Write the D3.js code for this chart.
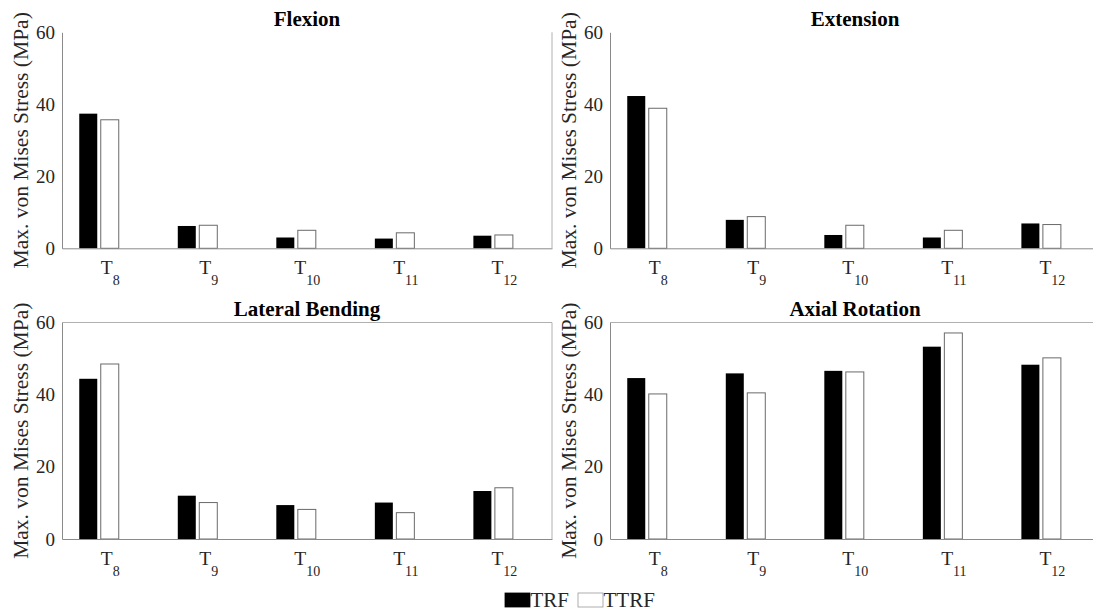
<!DOCTYPE html>
<html>
<head>
<meta charset="utf-8">
<script src="https://cdn.jsdelivr.net/npm/d3@7"></script>
<style>
  body { margin: 0; background: #fff; }
  svg { display: block; }
  text { font-family: "Liberation Serif", "Times New Roman", serif; }
</style>
</head>
<body>
<script>
// vertebra levels (subscripts of T)
var levels = ["8", "9", "10", "11", "12"];
var seriesNames = ["TRF", "TTRF"];
var panelTitles = ["Flexion", "Extension", "Lateral Bending", "Axial Rotation"];
var yTicks = [0, 20, 40, 60];

// max von Mises stress (MPa)
var flexionTRF = [37.4, 6.2, 3.0, 2.7, 3.5];
var flexionTTRF = [35.7, 6.4, 5.0, 4.3, 3.7];
var extensionTRF = [42.3, 7.9, 3.7, 3.0, 6.9];
var extensionTTRF = [38.9, 8.8, 6.4, 5.0, 6.6];
var lateralTRF = [44.4, 12.0, 9.4, 10.1, 13.3];
var lateralTTRF = [48.5, 10.1, 8.2, 7.3, 14.2];
var axialTRF = [44.6, 45.9, 46.6, 53.3, 48.3];
var axialTTRF = [40.2, 40.5, 46.3, 57.1, 50.2];

var panelData = [
    [flexionTRF, flexionTTRF],
    [extensionTRF, extensionTTRF],
    [lateralTRF, lateralTTRF],
    [axialTRF, axialTTRF]
];

var width = 1093,
    height = 612;

var svg = d3.select("body").append("svg")
    .attr("width", width)
    .attr("height", height);

svg.append("rect")
    .attr("width", width)
    .attr("height", height)
    .attr("fill", "#fff");

var panelW = 490;
var origins = [
    {x: 62, top: 32.3, bottom: 248.3, box: false},
    {x: 610, top: 32.3, bottom: 248.3, box: false},
    {x: 62, top: 322.5, bottom: 539, box: true},
    {x: 610, top: 322.5, bottom: 539, box: true}
];

var textColor = "#262626",
    axisColor = "#8a8a8a";

var barW = 18;

panelData.forEach(function(series, i) {
    var o = origins[i];
    var g = svg.append("g");

    var x = d3.scaleLinear()
        .domain([0.627, 5.6])
        .range([o.x, o.x + panelW]);
    var y = d3.scaleLinear()
        .domain([0, 60])
        .range([o.bottom, o.top]);

    // right edge (and top edge for the lower row)
    g.append("line")
        .attr("x1", o.x + panelW).attr("x2", o.x + panelW)
        .attr("y1", o.top).attr("y2", o.bottom)
        .attr("stroke", "#b0b0b0");
    if (o.box) {
        g.append("line")
            .attr("x1", o.x).attr("x2", o.x + panelW)
            .attr("y1", o.top).attr("y2", o.top)
            .attr("stroke", "#b0b0b0");
    }

    // bars
    g.selectAll(".trf").data(series[0])
        .enter().append("rect")
        .attr("class", "trf")
        .attr("x", function(d, j) { return x(j + 1) - 19.5; })
        .attr("y", function(d) { return y(d); })
        .attr("width", barW)
        .attr("height", function(d) { return y(0) - y(d); })
        .attr("fill", "#000");

    g.selectAll(".ttrf").data(series[1])
        .enter().append("rect")
        .attr("class", "ttrf")
        .attr("x", function(d, j) { return x(j + 1) + 2; })
        .attr("y", function(d) { return y(d); })
        .attr("width", barW)
        .attr("height", function(d) { return y(0) - y(d); })
        .attr("fill", "#fff")
        .attr("stroke", "#6a6a6a")
        .attr("stroke-width", 1);

    // y axis
    var yAxis = g.append("g")
        .attr("transform", "translate(" + o.x + ",0)")
        .call(d3.axisLeft(y).tickValues(yTicks).tickSize(0).tickPadding(7));
    yAxis.select(".domain").attr("stroke", axisColor);
    yAxis.selectAll("text")
        .attr("fill", textColor)
        .style("font-size", "19px")
        .style("font-family", "Liberation Serif");

    // x axis with T subscripts
    var xAxis = g.append("g")
        .attr("transform", "translate(0," + o.bottom + ")")
        .call(d3.axisBottom(x).tickValues([1, 2, 3, 4, 5]).tickSize(0).tickFormat(""));
    xAxis.select(".domain").attr("stroke", axisColor);
    xAxis.selectAll(".tick text").remove();
    xAxis.selectAll(".tick").append("text")
        .attr("x", 11)
        .attr("y", 26)
        .attr("text-anchor", "middle")
        .attr("fill", textColor)
        .attr("font-size", 19.5)
        .style("font-family", "Liberation Serif")
        .each(function(d) {
            var t = d3.select(this);
            t.append("tspan").attr("font-size", 19.5).text("T");
            t.append("tspan")
                .attr("dy", 11)
                .attr("font-size", 14)
                .text(levels[d - 1]);
        });

    // y label
    g.append("text")
        .attr("transform", "translate(" + (o.x - 34) + "," + ((o.top + o.bottom) / 2) + ") rotate(-90)")
        .attr("text-anchor", "middle")
        .attr("fill", textColor)
        .style("font-size", "21.5px")
        .text("Max. von Mises Stress (MPa)");

    // title
    g.append("text")
        .attr("x", o.x + panelW / 2)
        .attr("y", o.top - 6.5)
        .attr("text-anchor", "middle")
        .attr("fill", "#000")
        .style("font-size", "21px")
        .style("font-weight", "bold")
        .text(panelTitles[i]);
});

// legend
var legend = svg.append("g");
var legendItems = [
    {name: seriesNames[0], box: 505, fill: "#000", stroke: "#000"},
    {name: seriesNames[1], box: 578, fill: "#fff", stroke: "#9a9a9a"}
];
legendItems.forEach(function(d) {
    legend.append("rect")
        .attr("x", d.box)
        .attr("y", 593)
        .attr("width", 25)
        .attr("height", 14)
        .attr("fill", d.fill)
        .attr("stroke", d.stroke)
        .attr("stroke-width", 0.8);
    legend.append("text")
        .attr("x", d.box + 25.5)
        .attr("y", 607)
        .attr("fill", textColor)
        .style("font-size", "21px")
        .text(d.name);
});
</script>
</body>
</html>
